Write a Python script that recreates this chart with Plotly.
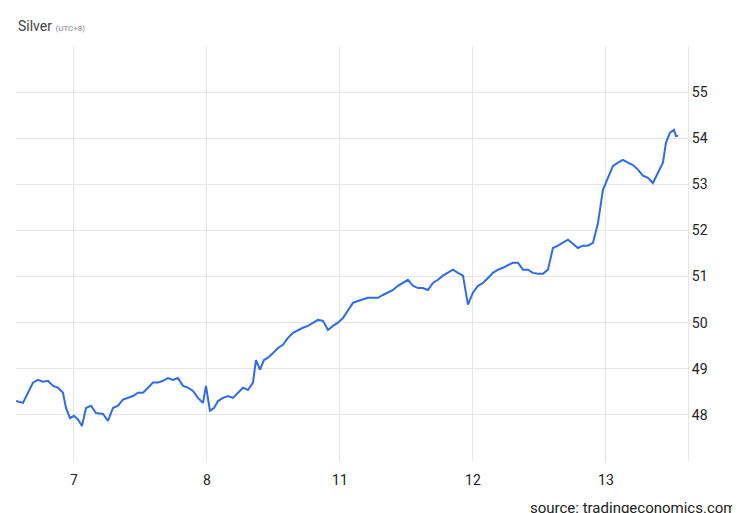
import numpy as np
import plotly.graph_objects as go

# trading-session position (1 day = 133 units, day "7" at 66), gaps between sessions removed
pos = [8, 15, 20, 25, 30, 35, 40, 45, 50, 55, 58, 62, 66, 70, 74, 78, 83, 88, 95, 100,
       105, 110, 115, 120, 125, 130, 135, 140, 145, 150, 155, 160, 165, 170, 175, 180, 185, 190, 195, 198,
       202, 206, 210, 215, 220, 225, 230, 235, 240, 245, 248, 252, 256, 260, 265, 270, 275, 280, 285, 290,
       295, 300, 305, 310, 315, 320, 325, 330, 335, 340, 345, 350, 355, 360, 365, 370, 375, 380, 385, 390,
       395, 400, 405, 410, 415, 420, 425, 430, 435, 440, 445, 450, 455, 460, 465, 470, 475, 480, 485, 490,
       495, 500, 505, 510, 515, 520, 525, 530, 535, 540, 545, 550, 555, 560, 565, 570, 575, 580, 585, 590,
       595, 600, 605, 610, 615, 620, 625, 630, 635, 640, 645, 650, 655, 658, 662, 666, 668, 670]
price = [48.30, 48.26, 48.48, 48.70, 48.76, 48.72, 48.74, 48.63, 48.59, 48.48, 48.15, 47.93, 47.98, 47.90, 47.76, 48.15, 48.20, 48.04, 48.02, 47.87,
         48.15, 48.20, 48.33, 48.37, 48.41, 48.48, 48.48, 48.59, 48.70, 48.70, 48.74, 48.80, 48.76, 48.80, 48.63, 48.59, 48.52, 48.37, 48.26, 48.63,
         48.09, 48.15, 48.30, 48.37, 48.41, 48.37, 48.48, 48.59, 48.54, 48.70, 49.19, 48.98, 49.19, 49.24, 49.34, 49.45, 49.52, 49.67, 49.78, 49.84,
         49.89, 49.93, 50.00, 50.06, 50.04, 49.84, 49.93, 50.00, 50.10, 50.26, 50.43, 50.47, 50.50, 50.54, 50.54, 50.54, 50.60, 50.65, 50.71, 50.80,
         50.86, 50.93, 50.80, 50.75, 50.75, 50.71, 50.86, 50.93, 51.02, 51.08, 51.15, 51.08, 51.02, 50.39, 50.65, 50.80, 50.86, 50.97, 51.08, 51.15,
         51.19, 51.25, 51.30, 51.30, 51.15, 51.15, 51.08, 51.06, 51.06, 51.15, 51.62, 51.67, 51.73, 51.80, 51.71, 51.62, 51.67, 51.67, 51.73, 52.16,
         52.88, 53.14, 53.40, 53.47, 53.53, 53.47, 53.42, 53.32, 53.19, 53.14, 53.03, 53.25, 53.47, 53.90, 54.12, 54.18, 54.05, 54.05]
day_ticks = [0, 1, 2, 3, 4]
day_labels = ["7", "8", "11", "12", "13"]
y_ticks = [48, 49, 50, 51, 52, 53, 54, 55]

x = (np.array(pos) - 66) / 133

fig = go.Figure()
fig.add_trace(go.Scatter(x=x, y=price, mode='lines',
                         line=dict(color='#2f6be5', width=2), hoverinfo='skip'))

fig.update_layout(
    width=740, height=513,
    margin=dict(l=8, r=60, t=38, b=60, autoexpand=False),
    paper_bgcolor='white', plot_bgcolor='white',
    showlegend=False,
    font=dict(family='Roboto, Arial', color='#333'),
    xaxis=dict(range=[-0.436, 4.617], tickvals=day_ticks, ticktext=day_labels,
               showgrid=True, gridcolor='#e6e6e6', zeroline=False, automargin=False,
               tickfont=dict(size=14, color='#222'), ticks='outside', ticklen=6, tickcolor='white',
               showline=False),
    yaxis=dict(range=[47.0, 56.0], side='right', tickvals=y_ticks, automargin=False,
               showgrid=True, gridcolor='#e6e6e6', zeroline=False,
               tickfont=dict(size=14, color='#222'), showline=True, linecolor='#e6e6e6',
               mirror=False),
)
fig.add_annotation(text="Silver <span style='font-size:8px;color:#888'>(UTC+8)</span>",
                   xref='paper', yref='paper', x=0.0, y=1.0, yshift=20,
                   xanchor='left', yanchor='middle', showarrow=False,
                   font=dict(size=14, color='#444'))
fig.add_annotation(text="source: tradingeconomics.com", xref='paper', yref='paper',
                   x=1.074, y=0, yshift=-47, xanchor='right', yanchor='middle', showarrow=False,
                   font=dict(size=15, color='#222'))

fig.write_html("out.html")
